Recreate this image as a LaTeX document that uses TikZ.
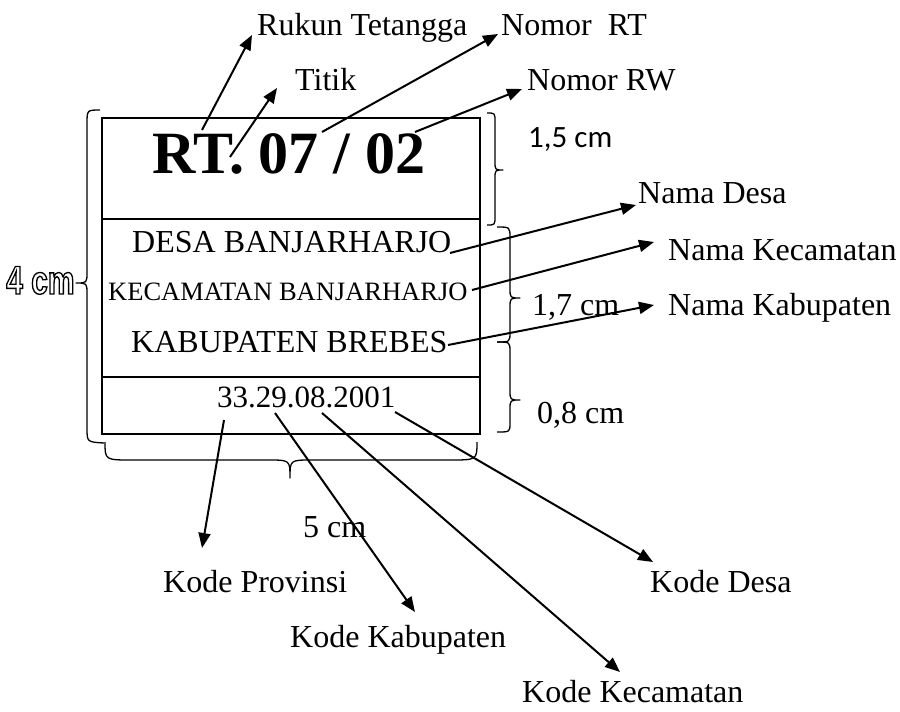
\documentclass[tikz,border=0pt]{standalone}
\usepackage{fontspec}
\setmainfont{Liberation Serif}
\newfontfamily\calfont{Carlito}
\newfontfamily\fourfont[FakeStretch=0.75]{Liberation Sans}
\usetikzlibrary{arrows.meta}
\newcommand{\outlinetext}[1]{\special{pdf:literal direct 1 Tr 1.3 w}#1\special{pdf:literal direct 0 Tr}}
\begin{document}
\begin{tikzpicture}[x=1pt,y=-1pt,
  lbl/.style={inner sep=0pt, anchor=base west, font=\fontsize{32}{32}\selectfont},
  txt/.style={inner sep=0pt, anchor=base west},
  pointer/.style={line width=2pt, -{Triangle[length=15pt,width=12pt]}},
  bracestyle/.style={line width=1.3pt, line join=round},
  boxline/.style={line width=2pt}]
\useasboundingbox (0,0) rectangle (900,712);
% box
\draw[boxline] (102,118) rectangle (480,434);
\draw[boxline] (102,219) -- (480,219);
\draw[boxline] (102,377) -- (480,377);
% box texts
\node[txt, font=\fontsize{60}{60}\selectfont\bfseries] (rt) at (152,173) {RT. 07 / 02};
\node[txt, font=\fontsize{32}{32}\selectfont] (desa) at (132,252) {DESA BANJARHARJO};
\node[txt, font=\fontsize{26.5}{26.5}\selectfont] (kec) at (108,300) {KECAMATAN BANJARHARJO};
\node[txt, font=\fontsize{32}{32}\selectfont] (kab) at (131,352) {KABUPATEN BREBES};
\node[txt, font=\fontsize{31}{31}\selectfont] (kode) at (217,407) {33.29.08.2001};
% labels
\node[lbl] (rukun) at (257,35) {Rukun Tetangga};
\node[lbl] (nomorrt) at (501,35) {Nomor~~RT};
\node[lbl] (titik) at (295,90) {Titik};
\node[lbl] (nomorrw) at (527,90) {Nomor RW};
\node[txt, font=\calfont\fontsize{31}{31}\selectfont] (d15) at (528,147) {1,5 cm};
\node[lbl] (namadesa) at (638,203) {Nama Desa};
\node[lbl] (namakec) at (668,260) {Nama Kecamatan};
\node[lbl] (namakab) at (668,315) {Nama Kabupaten};
\node[lbl] (d17) at (532,315) {1,7 cm};
\node[lbl] (d08) at (537,423) {0,8 cm};
\node[lbl] (d5) at (303,537) {5 cm};
\node[lbl] (kprov) at (163,592) {Kode Provinsi};
\node[lbl] (kkab) at (290,647) {Kode Kabupaten};
\node[lbl] (kdesa) at (650,592) {Kode Desa};
\node[lbl] (kkec) at (522,702) {Kode Kecamatan};
% 4 cm outlined
\node[txt, font=\fourfont\bfseries\fontsize{40}{40}\selectfont] (d4) at (6,294) {\outlinetext{4 cm}};
% braces
\draw[bracestyle] (100,110) .. controls (87,110) .. (87,124) -- (87,272) .. controls (87,283) .. (76,283)
   .. controls (87,283) .. (87,294) -- (87,428) .. controls (87,442) .. (104,443);
\draw[bracestyle] (105,442) .. controls (105,460) .. (132,460) -- (268,460) .. controls (290,460) .. (290,478)
   .. controls (290,460) .. (312,460) -- (450,460) .. controls (477,460) .. (477,442);
\draw[bracestyle] (487,113) .. controls (495,113) .. (495,122) -- (495,161) .. controls (495,170) .. (503,170)
   .. controls (495,170) .. (495,179) -- (495,216) .. controls (495,225) .. (487,225);
\draw[bracestyle] (497,227) .. controls (510,227) .. (510,238) -- (510,288) .. controls (510,298) .. (520,298)
   .. controls (510,298) .. (510,308) -- (510,332) .. controls (510,342) .. (497,342);
\draw[bracestyle] (497,342) .. controls (510,342) .. (510,352) -- (510,390) .. controls (510,400) .. (520,400)
   .. controls (510,400) .. (510,410) -- (510,423) .. controls (510,432) .. (497,432);
% arrow endpoints
\coordinate (sR) at (202,130);   \coordinate (tR) at (252,35);
\coordinate (sDot) at (230,157); \coordinate (tDot) at (277,88);
\coordinate (sRT) at (322,132);  \coordinate (tRT) at (498,34);
\coordinate (sRW) at (415,132);  \coordinate (tRW) at (522,89);
\coordinate (sDesa) at (450,253);\coordinate (tDesa) at (636,205);
\coordinate (sKec) at (472,290); \coordinate (tKec) at (654,242);
\coordinate (sKab) at (448,345); \coordinate (tKab) at (654,305);
\coordinate (sP) at (224,420);   \coordinate (tP) at (202,548);
\coordinate (sKb) at (275,413);  \coordinate (tKb) at (415,612);
\coordinate (sKc) at (322,413);  \coordinate (tKc) at (620,672);
\coordinate (sD) at (395,412);   \coordinate (tD) at (653,562);
% arrows
\draw[pointer] (sR) -- (tR);
\draw[pointer] (sDot) -- (tDot);
\draw[pointer] (sRT) -- (tRT);
\draw[pointer] (sRW) -- (tRW);
\draw[pointer] (sDesa) -- (tDesa);
\draw[pointer] (sKec) -- (tKec);
\draw[pointer] (sKab) -- (tKab);
\draw[pointer] (sP) -- (tP);
\draw[pointer] (sKb) -- (tKb);
\draw[pointer] (sKc) -- (tKc);
\draw[pointer] (sD) -- (tD);
\end{tikzpicture}
\end{document}
